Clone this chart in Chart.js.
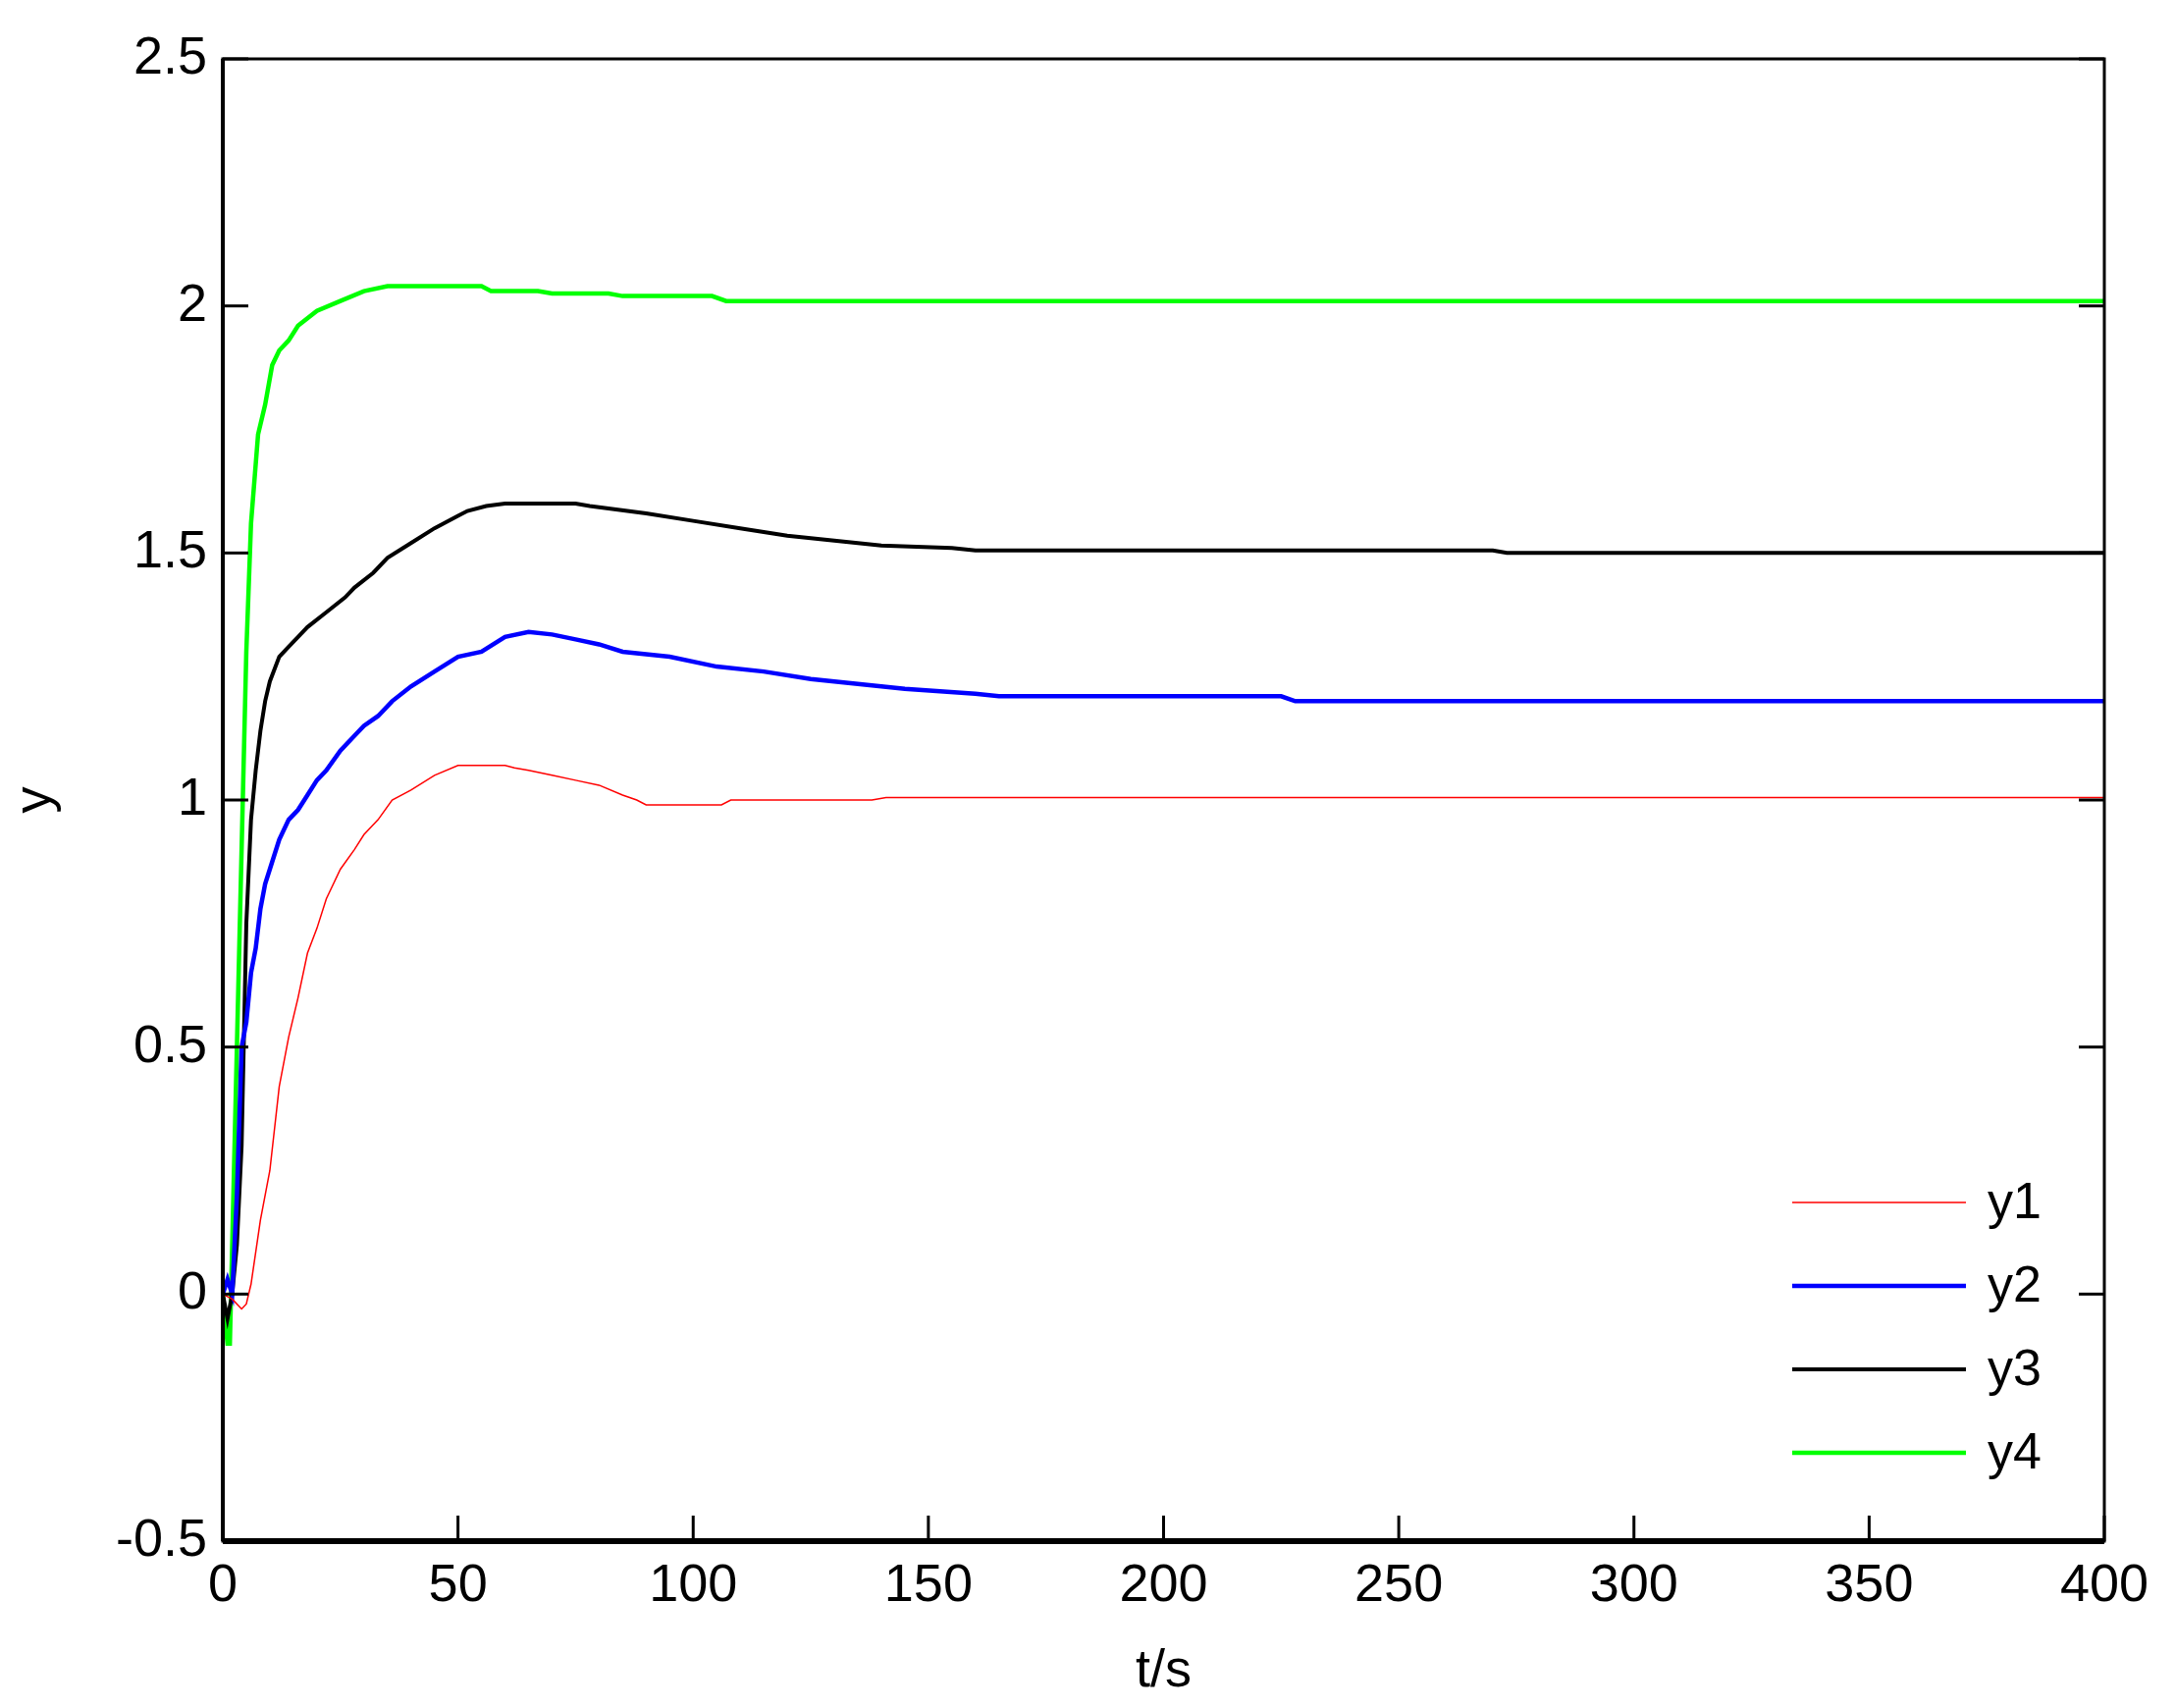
<!DOCTYPE html>
<html>
<head>
<meta charset="utf-8">
<script src="https://cdn.jsdelivr.net/npm/chart.js@4.4.0/dist/chart.umd.min.js"></script>
<style>
  html, body { margin: 0; padding: 0; background: #fff; }
  #wrap { width: 2216px; height: 1740px; }
</style>
</head>
<body>
<div id="wrap"><canvas id="myChart"></canvas></div>
<script>
const xTicks = [0, 50, 100, 150, 200, 250, 300, 350, 400];
const yTicks = [-0.5, 0, 0.5, 1, 1.5, 2, 2.5];

const y1 = [[0,0],[2,-0.01],[4,-0.03],[5,-0.02],[6,0.02],[8,0.15],[10,0.25],[12,0.42],[14,0.52],[16,0.6],[18,0.69],[20,0.74],[22,0.8],[25,0.86],[28,0.9],[30,0.93],[33,0.96],[36,1.0],[40,1.02],[45,1.05],[50,1.07],[60,1.07],[62,1.065],[65,1.06],[70,1.05],[75,1.04],[80,1.03],[85,1.01],[88,1.0],[90,0.99],[106,0.99],[108,1.0],[138,1.0],[141,1.005],[400,1.005]];
const y2 = [[0,0],[1,0.03],[2,0],[3,0.2],[4,0.5],[5,0.55],[6,0.65],[7,0.7],[8,0.78],[9,0.83],[10,0.86],[12,0.92],[14,0.96],[16,0.98],[18,1.01],[20,1.04],[22,1.06],[25,1.1],[28,1.13],[30,1.15],[33,1.17],[36,1.2],[40,1.23],[45,1.26],[50,1.29],[55,1.3],[60,1.33],[65,1.34],[70,1.335],[75,1.325],[80,1.315],[85,1.3],[95,1.29],[105,1.27],[115,1.26],[125,1.245],[135,1.235],[145,1.225],[160,1.215],[165,1.21],[225,1.21],[228,1.2],[400,1.2]];
const y3 = [[0,0],[1,-0.05],[2,0],[3,0.1],[4,0.3],[5,0.75],[6,0.96],[7,1.06],[8,1.14],[9,1.2],[10,1.24],[12,1.29],[14,1.31],[16,1.33],[18,1.35],[22,1.38],[26,1.41],[28,1.43],[32,1.46],[35,1.49],[40,1.52],[45,1.55],[50,1.575],[52,1.585],[56,1.595],[60,1.6],[75,1.6],[78,1.595],[82,1.59],[90,1.58],[100,1.565],[110,1.55],[120,1.535],[130,1.525],[140,1.515],[155,1.51],[160,1.505],[270,1.505],[273,1.5],[400,1.5]];
const y4 = [[0,0],[1,-0.1],[1.5,-0.1],[3,0.5],[5,1.3],[6,1.56],[7.5,1.74],[9,1.8],[10.5,1.88],[12,1.91],[14,1.93],[16,1.96],[20,1.99],[25,2.01],[30,2.03],[35,2.04],[55,2.04],[57,2.03],[67,2.03],[70,2.025],[82,2.025],[85,2.02],[104,2.02],[107,2.01],[400,2.01]];

const seriesNames = ['y1', 'y2', 'y3', 'y4'];
const seriesColors = ['#ff0000', '#0000ff', '#000000', '#00ff00'];
const seriesWidths = [1.5, 4.5, 4, 4.5];
const seriesData = [y1, y2, y3, y4];

const FONT = "'Liberation Sans Narrow', 'Liberation Sans', Arial, sans-serif";

const axisPlugin = {
  id: 'axisPlugin',
  afterDraw(chart) {
    const c = chart.ctx, a = chart.chartArea;
    const xs = chart.scales.x, ys = chart.scales.y;
    c.save();
    c.strokeStyle = '#000';
    c.lineWidth = 3;
    c.strokeRect(a.left, a.top, a.right - a.left, a.bottom - a.top);
    c.lineWidth = 6;
    c.beginPath(); c.moveTo(a.left, a.bottom); c.lineTo(a.right, a.bottom); c.stroke();
    c.lineWidth = 4;
    c.beginPath(); c.moveTo(a.left, a.top); c.lineTo(a.left, a.bottom); c.stroke();
    c.lineWidth = 3;
    const L = 26;
    xTicks.forEach(v => {
      const px = xs.getPixelForValue(v);
      c.beginPath(); c.moveTo(px, a.bottom); c.lineTo(px, a.bottom - L); c.stroke();
    });
    yTicks.forEach(v => {
      const py = ys.getPixelForValue(v);
      c.beginPath(); c.moveTo(a.left, py); c.lineTo(a.left + L, py); c.stroke();
      c.beginPath(); c.moveTo(a.right, py); c.lineTo(a.right - L, py); c.stroke();
    });
    // legend
    c.font = '52px ' + FONT;
    c.textBaseline = 'middle';
    c.fillStyle = '#000';
    seriesNames.forEach((n, i) => {
      const yy = 1225 + i * 85;
      c.strokeStyle = seriesColors[i];
      c.lineWidth = seriesWidths[i];
      c.beginPath(); c.moveTo(1826, yy); c.lineTo(2003, yy); c.stroke();
      c.fillText(n, 2025, yy + 2);
    });
    c.restore();
  }
};

const config = {
  type: 'scatter',
  data: {
    datasets: seriesData.map((d, i) => ({
      label: seriesNames[i],
      data: d.map(p => ({ x: p[0], y: p[1] })),
      showLine: true,
      borderColor: seriesColors[i],
      borderWidth: seriesWidths[i],
      pointRadius: 0,
      tension: 0
    }))
  },
  options: {
    responsive: true,
    maintainAspectRatio: false,
    animation: false,
    layout: { padding: { top: 60, right: 72, left: 0, bottom: 0 } },
    plugins: { legend: { display: false }, tooltip: { enabled: false } },
    scales: {
      x: {
        type: 'linear', min: 0, max: 400,
        afterBuildTicks: s => { s.ticks = xTicks.map(v => ({ value: v })); },
        afterFit: s => { s.height = 170; },
        grid: { display: false },
        border: { display: false },
        ticks: { color: '#000', font: { size: 54, family: FONT }, padding: 6, maxRotation: 0 },
        title: { display: true, text: 't/s', color: '#000', font: { size: 54, family: FONT }, padding: { top: 0 } }
      },
      y: {
        type: 'linear', min: -0.5, max: 2.5,
        afterBuildTicks: s => { s.ticks = yTicks.map(v => ({ value: v })); },
        afterFit: s => { s.width = 227; },
        grid: { display: false },
        border: { display: false },
        ticks: { color: '#000', font: { size: 54, family: FONT }, padding: 8, callback: v => String(v) },
        title: { display: true, text: 'y', color: '#000', font: { size: 54, family: FONT }, padding: { bottom: 0 } }
      }
    }
  },
  plugins: [axisPlugin]
};

new Chart(document.getElementById('myChart'), config);
</script>
</body>
</html>
